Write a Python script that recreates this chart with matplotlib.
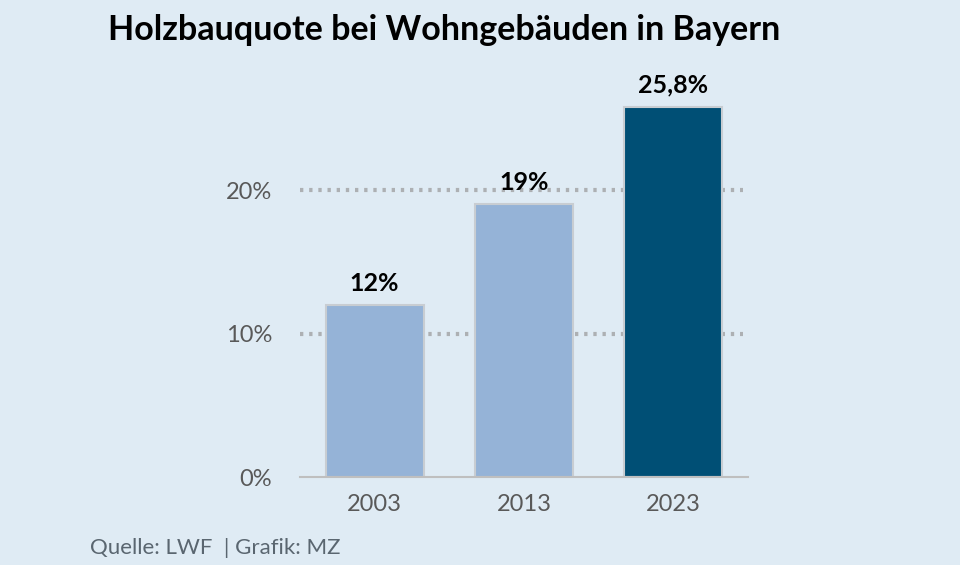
import numpy as np
import matplotlib.pyplot as plt

years = ["2003", "2013", "2023"]
quote = [12, 19, 25.8]
labels = ["12%", "19%", "25,8%"]
colors = ["#95b3d7", "#95b3d7", "#004f75"]
yticks = [0, 10, 20]
yticklabels = ["0%", "10%", "20%"]

bg = "#dfebf4"
plt.rcParams['font.family'] = ['Lato', 'DejaVu Sans']

fig = plt.figure(figsize=(9.6, 5.65), dpi=100, facecolor=bg)
ax = fig.add_axes([300/960, 1-477/565, 448/960, (477-60)/565])
ax.set_facecolor(bg)

ind = np.arange(len(years))
ax.set_xlim(-0.5, 2.5)
ax.set_ylim(0, 29.06)

# gepunktete Hilfslinien
for y in yticks[1:]:
    ax.axhline(y, xmin=0, xmax=0.988, color="#adb0b3", lw=3, ls=(0, (0.8, 1.4)),
               zorder=1, solid_capstyle="butt", dash_capstyle="butt")

bars = ax.bar(ind, quote, 0.655, color=colors, edgecolor="#c8cdd2", linewidth=1.5, zorder=2)
for b, lab in zip(bars, labels):
    ax.text(b.get_x() + b.get_width()/2, b.get_height() + 0.7, lab, ha="center", va="bottom",
            fontsize=18, fontweight="bold", color="black")

for s in ["top", "right", "left"]:
    ax.spines[s].set_visible(False)
ax.spines["bottom"].set_color("#bfbfbf")
ax.spines["bottom"].set_linewidth(1.5)

ax.set_xticks(ind)
ax.set_xticklabels(years, fontsize=17, color="#595959")
ax.set_yticks(yticks)
ax.set_yticklabels(yticklabels, fontsize=17, color="#595959")
ax.tick_params(length=0, axis="x", pad=12)
ax.tick_params(length=0, axis="y", pad=20)

fig.text(108/960, 1-30/565, "Holzbauquote bei Wohngebäuden in Bayern", fontsize=24.5,
         fontweight="bold", color="black", va="center", ha="left")
fig.text(90/960, 1-548/565, "Quelle: LWF  | Grafik: MZ", fontsize=16, color="#5a6670",
         va="center", ha="left")

plt.savefig("out.png", dpi=100, facecolor=bg)
